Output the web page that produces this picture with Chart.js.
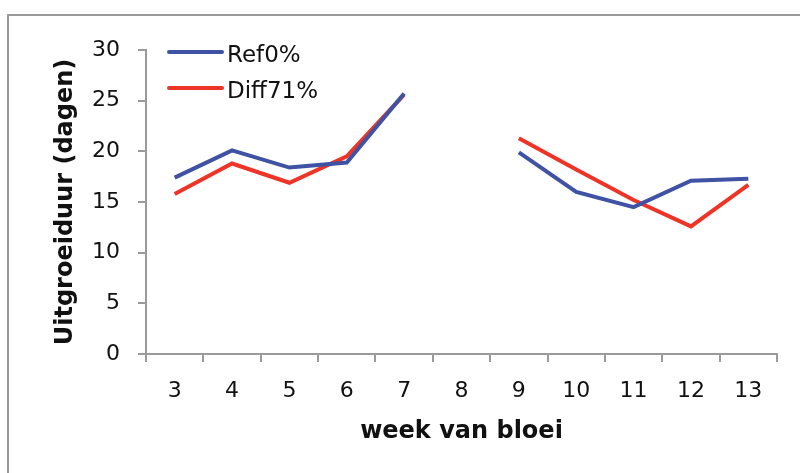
<!DOCTYPE html>
<html>
<head>
<meta charset="utf-8">
<script src="https://cdn.jsdelivr.net/npm/chart.js@4"></script>
<style>
  html, body { margin: 0; padding: 0; background: #fff; }
  #wrap { position: relative; width: 800px; height: 473px; }
  #frame { position: absolute; left: 7px; top: 14px; width: 820px; height: 500px; border-left: 2px solid #9a9a9a; border-top: 2px solid #9a9a9a; }
  canvas { position: absolute; left: 0; top: 0; }
</style>
</head>
<body>
<div id="wrap">
  <div id="frame"></div>
  <canvas id="chart" width="800" height="473"></canvas>
</div>
<script>
// weken van bloei (week 8: geen data)
const weken = ['3', '4', '5', '6', '7', '8', '9', '10', '11', '12', '13'];
const ref0 = [17.4, 20.1, 18.4, 18.9, 25.7, null, 19.9, 16.0, 14.5, 17.1, 17.3];
const diff71 = [15.8, 18.8, 16.9, 19.5, 25.6, null, 21.3, 18.2, 15.2, 12.6, 16.7];
const yTicks = [0, 5, 10, 15, 20, 25, 30];

const fontNaam = '"DejaVu Sans", Verdana, sans-serif';
const asKleur = '#9a9a9a';

// legenda linksboven in het plotvlak
const legendaPlugin = {
    id: 'legendaBinnen',
    afterDraw(chart) {
        const ctx = chart.ctx;
        const area = chart.chartArea;
        ctx.save();
        ctx.font = '23px ' + fontNaam;
        ctx.textBaseline = 'middle';
        chart.data.datasets.forEach((ds, i) => {
            const y = area.top + 2 + i * 36;
            ctx.strokeStyle = ds.borderColor;
            ctx.lineWidth = 4;
            ctx.lineCap = 'round';
            ctx.beginPath();
            ctx.moveTo(area.left + 23, y);
            ctx.lineTo(area.left + 76, y);
            ctx.stroke();
            ctx.fillStyle = '#111';
            ctx.fillText(ds.label, area.left + 81, y + 4);
        });
        ctx.restore();
    }
};

new Chart(document.getElementById('chart'), {
    type: 'line',
    data: {
        labels: weken,
        datasets: [
            { label: 'Ref0%', data: ref0, borderColor: '#3f52a3', borderWidth: 4, pointRadius: 0, spanGaps: false, tension: 0 },
            { label: 'Diff71%', data: diff71, borderColor: '#ee3426', borderWidth: 4, pointRadius: 0, spanGaps: false, tension: 0 }
        ]
    },
    options: {
        responsive: false,
        animation: false,
        layout: { padding: { left: 40, top: 50, right: 23, bottom: 20 } },
        plugins: { legend: { display: false }, tooltip: { enabled: false } },
        scales: {
            x: {
                offset: true,
                grid: { offset: true, drawOnChartArea: false, drawTicks: true, tickLength: 8, color: asKleur, lineWidth: 2 },
                border: { color: asKleur, width: 2 },
                ticks: { color: '#111', font: { family: fontNaam, size: 22 }, padding: 16, maxRotation: 0 },
                title: { display: true, text: 'week van bloei', color: '#111', font: { family: fontNaam, size: 24, weight: 'bold' }, padding: { top: 4, bottom: 7 } },
                afterFit: (scale) => { scale.height = 99; }
            },
            y: {
                min: 0,
                max: 30,
                afterBuildTicks: (scale) => { scale.ticks = yTicks.map(v => ({ value: v })); },
                grid: { drawOnChartArea: false, drawTicks: true, tickLength: 8, color: asKleur, lineWidth: 2 },
                border: { color: asKleur, width: 2 },
                ticks: { color: '#111', font: { family: fontNaam, size: 22 }, padding: 18 },
                title: { display: true, text: 'Uitgroeiduur (dagen)', color: '#111', font: { family: fontNaam, size: 24, weight: 'bold' }, padding: { top: 11, bottom: 4 } },
                afterFit: (scale) => { scale.width = 106; }
            }
        }
    },
    plugins: [legendaPlugin]
});
</script>
</body>
</html>
